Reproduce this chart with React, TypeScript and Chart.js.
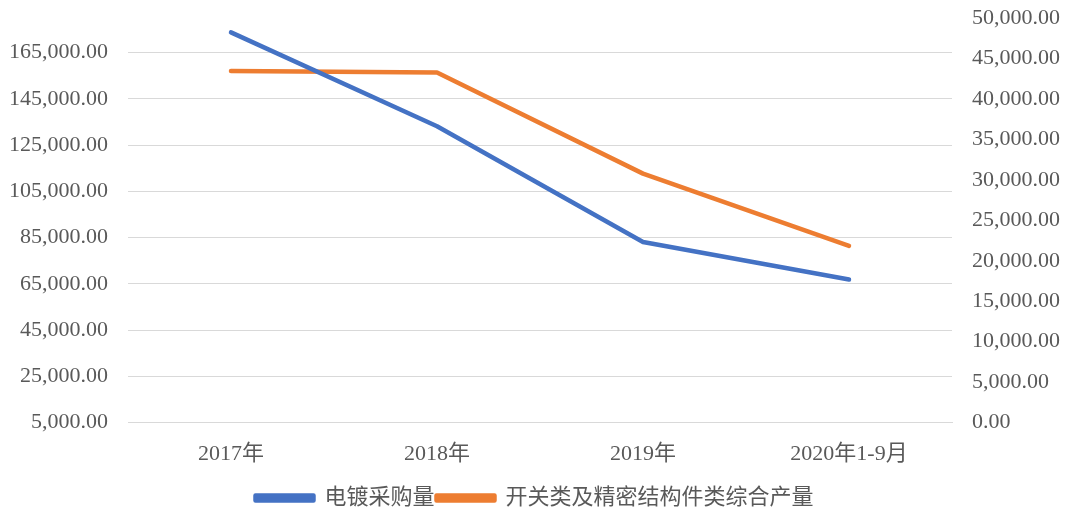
import React, { useEffect, useRef } from "react";
import { Chart, registerables } from "chart.js";

Chart.register(...registerables);

const categories = ["2017年", "2018年", "2019年", "2020年1-9月"];
const platingPurchase = [173800, 133200, 83100, 66900];
const switchOutput = [43460, 43260, 30770, 21840];
const leftTicks = [5000, 25000, 45000, 65000, 85000, 105000, 125000, 145000, 165000];
const seriesNames = ["电镀采购量", "开关类及精密结构件类综合产量"];

const FONT = "'Liberation Serif', 'Times New Roman', 'Noto Sans CJK SC', serif";
const TEXT = "#595959";
const fmt = (v: number) =>
  Number(v).toLocaleString("en-US", { minimumFractionDigits: 2, maximumFractionDigits: 2 });

export default function App() {
  const ref = useRef<HTMLCanvasElement | null>(null);
  useEffect(() => {
    document.body.style.margin = "0";
    const chart = new Chart(ref.current!, {
      type: "line",
      data: {
        labels: categories,
        datasets: [
          {
            label: seriesNames[0],
            data: platingPurchase,
            borderColor: "#4472C4",
            backgroundColor: "#4472C4",
            borderWidth: 4.5,
            pointRadius: 0,
            borderCapStyle: "round",
            borderJoinStyle: "round",
            tension: 0,
            yAxisID: "y",
          },
          {
            label: seriesNames[1],
            data: switchOutput,
            borderColor: "#ED7D31",
            backgroundColor: "#ED7D31",
            borderWidth: 4.5,
            pointRadius: 0,
            borderCapStyle: "round",
            borderJoinStyle: "round",
            tension: 0,
            yAxisID: "y1",
          },
        ],
      },
      options: {
        responsive: true,
        maintainAspectRatio: false,
        animation: false,
        layout: { padding: { left: -11, right: -11, top: 0, bottom: -5 } },
        plugins: {
          tooltip: { enabled: false },
          legend: {
            position: "bottom",
            labels: {
              boxWidth: 58,
              boxHeight: 5,
              padding: 2,
              color: TEXT,
              font: { family: FONT, size: 22 },
            },
          },
        },
        scales: {
          x: {
            offset: true,
            grid: { display: false, drawTicks: false },
            border: { display: true, color: "#D9D9D9" },
            ticks: { color: TEXT, font: { family: FONT, size: 22 }, padding: 18, maxRotation: 0 },
          },
          y: {
            position: "left",
            min: 5000,
            max: 180000,
            afterBuildTicks: (axis: any) => {
              axis.ticks = leftTicks.map((v) => ({ value: v }));
            },
            afterFit: (axis: any) => {
              axis.paddingTop = 18;
            },
            grid: { color: "#D9D9D9", lineWidth: 1, drawTicks: false },
            border: { display: false },
            ticks: {
              color: TEXT,
              font: { family: FONT, size: 22 },
              padding: 20,
              callback: (v: any) => fmt(v),
            },
          },
          y1: {
            position: "right",
            min: 0,
            max: 50000,
            afterFit: (axis: any) => {
              axis.paddingTop = 18;
            },
            grid: { display: false, drawTicks: false },
            border: { display: false },
            ticks: {
              stepSize: 5000,
              color: TEXT,
              font: { family: FONT, size: 22 },
              padding: 20,
              callback: (v: any) => fmt(v),
            },
          },
        },
      },
    });
    return () => chart.destroy();
  }, []);
  return (
    <div style={{ position: "relative", width: 1069, height: 514 }}>
      <canvas ref={ref} />
    </div>
  );
}
